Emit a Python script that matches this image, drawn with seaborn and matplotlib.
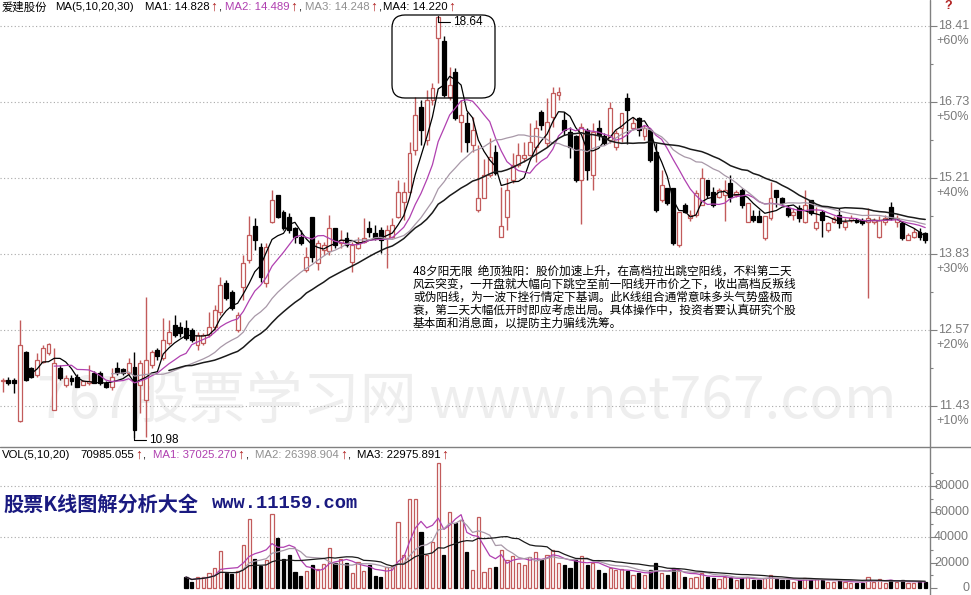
import numpy as np
import pandas as pd
import matplotlib
matplotlib.use("Agg")
import matplotlib.pyplot as plt
import seaborn as sns
from matplotlib.patches import FancyBboxPatch
from matplotlib.lines import Line2D
from matplotlib.ticker import FixedLocator, NullFormatter
import matplotlib.transforms as mtransforms

# ---------------- data ----------------
opens = [
    11.79, 11.81, 11.81, 11.22, 12.23, 11.99, 11.88, 12.08, 12.22, 11.38,
    11.99, 11.74, 11.84, 11.85, 11.74, 11.77, 11.92, 11.92, 11.77, 11.70,
    11.99, 11.97, 11.91, 12.00, 11.74, 11.52, 12.04, 12.26, 12.14, 12.37,
    12.65, 12.62, 12.61, 12.57, 12.34, 12.37, 12.50, 12.62, 12.86, 13.34,
    13.19, 12.57, 13.27, 13.73, 14.32, 13.95, 13.34, 14.39, 14.89, 14.58,
    14.49, 14.29, 14.13, 13.56, 14.49, 13.67, 13.90, 13.88, 14.29, 14.02,
    14.11, 13.70, 13.94, 14.04, 14.29, 14.20, 14.25, 14.11, 14.13, 14.49,
    14.76, 14.95, 15.76, 16.64, 15.96, 16.78, 18.14, 18.07, 16.85, 17.38,
    16.33, 16.31, 15.86, 14.62, 14.84, 15.27, 15.72, 14.13, 14.49, 15.18,
    15.47, 15.60, 15.66, 15.82, 16.53, 15.90, 16.43, 16.89, 16.37, 16.12,
    16.04, 15.18, 16.16, 15.27, 16.20, 16.04, 15.96, 15.82, 16.20, 16.82,
    16.20, 16.41, 16.04, 16.16, 15.72, 14.80, 15.03, 15.03, 13.99, 14.71,
    14.47, 14.52, 14.71, 15.18, 14.95, 14.86, 14.89, 15.12, 14.89, 14.99,
    14.40, 14.50, 14.50, 14.11, 14.47, 14.99, 14.84, 14.65, 14.52, 14.65,
    14.40, 14.80, 14.29, 14.58, 14.25, 14.40, 14.52, 14.31, 14.43, 14.43,
    14.43, 14.40, 14.40, 14.13, 14.40, 14.67, 14.40, 14.38, 14.08, 14.13,
    14.22, 14.20]
closes = [
    11.81, 11.77, 11.76, 12.34, 11.81, 11.85, 12.11, 12.29, 12.36, 12.07,
    11.84, 11.84, 11.79, 11.71, 11.79, 11.80, 11.77, 11.77, 11.71, 11.85,
    11.91, 11.91, 12.07, 11.09, 12.07, 12.11, 12.23, 12.17, 12.42, 12.54,
    12.50, 12.53, 12.45, 12.42, 12.50, 12.50, 12.62, 12.89, 13.30, 13.09,
    12.92, 12.81, 13.67, 14.16, 14.08, 13.44, 13.95, 14.80, 14.49, 14.29,
    14.25, 14.13, 14.02, 13.78, 13.78, 14.02, 13.99, 14.29, 13.99, 14.08,
    13.99, 13.99, 14.04, 14.11, 14.22, 14.11, 14.08, 14.25, 14.34, 14.95,
    14.95, 15.70, 16.47, 16.16, 16.78, 17.03, 18.62, 16.89, 17.10, 16.40,
    16.47, 15.92, 16.16, 14.84, 15.27, 15.62, 15.31, 14.32, 14.99, 15.47,
    15.66, 15.66, 15.92, 16.20, 16.26, 16.33, 16.93, 16.95, 16.16, 15.82,
    15.18, 16.22, 15.37, 16.12, 16.06, 15.90, 16.61, 16.10, 16.50, 16.57,
    16.30, 16.16, 16.20, 15.56, 14.62, 15.08, 14.74, 14.02, 14.58, 14.58,
    14.52, 14.93, 15.22, 14.89, 14.71, 14.99, 14.99, 14.86, 14.95, 14.71,
    14.74, 14.43, 14.40, 14.50, 14.84, 14.86, 14.74, 14.52, 14.58, 14.47,
    14.71, 14.56, 14.40, 14.43, 14.38, 14.47, 14.38, 14.40, 14.47, 14.40,
    14.38, 14.47, 14.43, 14.43, 14.47, 14.47, 14.47, 14.11, 14.16, 14.22,
    14.13, 14.08]
highs = [
    11.84, 11.85, 11.84, 12.73, 12.25, 12.01, 12.22, 12.34, 12.37, 12.29,
    12.04, 11.88, 11.88, 11.90, 11.81, 12.04, 11.94, 11.94, 11.79, 11.99,
    12.08, 11.99, 12.14, 12.23, 12.11, 13.11, 12.26, 12.29, 12.76, 12.73,
    12.81, 12.70, 12.73, 12.61, 12.54, 12.53, 12.86, 12.97, 13.43, 13.39,
    13.22, 12.86, 13.81, 14.50, 14.47, 14.02, 14.02, 14.99, 14.89, 14.62,
    14.56, 14.31, 14.25, 13.95, 14.49, 14.08, 14.04, 14.52, 14.29, 14.25,
    14.22, 14.04, 14.13, 14.47, 14.41, 14.34, 14.31, 14.34, 14.47, 15.18,
    15.13, 15.92, 16.85, 16.78, 16.99, 17.14, 18.64, 18.18, 17.49, 17.47,
    16.78, 16.53, 16.43, 15.86, 15.58, 16.00, 15.86, 15.04, 15.22, 15.70,
    15.90, 15.92, 16.30, 16.37, 16.57, 16.82, 17.05, 17.05, 16.53, 16.22,
    16.06, 16.30, 16.20, 16.30, 16.37, 16.10, 16.74, 16.16, 16.50, 16.93,
    16.43, 16.43, 16.26, 16.20, 15.90, 15.37, 15.03, 15.03, 14.58, 14.74,
    14.62, 14.99, 15.40, 15.18, 15.04, 15.03, 15.18, 15.27, 14.99, 15.03,
    14.74, 14.62, 14.62, 14.50, 15.13, 14.99, 14.86, 14.71, 14.65, 14.71,
    14.99, 14.80, 14.67, 14.62, 14.40, 14.50, 14.65, 14.47, 14.52, 14.47,
    14.47, 14.65, 14.47, 14.50, 14.52, 14.76, 14.52, 14.40, 14.20, 14.29,
    14.29, 14.22]
lows = [
    11.63, 11.74, 11.62, 11.21, 11.80, 11.84, 11.85, 12.07, 12.19, 11.38,
    11.81, 11.70, 11.74, 11.70, 11.73, 11.74, 11.76, 11.74, 11.69, 11.66,
    11.88, 11.88, 11.88, 10.98, 11.33, 10.99, 11.99, 12.11, 12.11, 12.34,
    12.47, 12.47, 12.42, 12.39, 12.26, 12.34, 12.47, 12.57, 12.81, 13.06,
    12.89, 12.54, 13.06, 13.67, 13.90, 13.35, 13.27, 14.38, 14.47, 14.25,
    14.20, 14.02, 13.99, 13.53, 13.70, 13.56, 13.81, 13.81, 13.94, 13.94,
    13.95, 13.53, 13.92, 14.02, 14.13, 14.08, 13.85, 13.59, 14.11, 14.47,
    14.43, 14.93, 15.66, 15.86, 15.86, 16.68, 17.14, 16.85, 16.78, 16.37,
    15.72, 15.72, 15.72, 14.58, 14.84, 15.24, 15.27, 14.13, 14.25, 15.12,
    15.43, 15.53, 15.64, 15.53, 16.16, 15.82, 16.22, 16.78, 16.06, 15.60,
    15.14, 14.36, 15.18, 14.99, 15.96, 15.86, 15.90, 15.76, 15.92, 15.88,
    16.16, 16.04, 15.96, 15.53, 14.58, 14.76, 14.71, 13.99, 13.95, 14.56,
    14.41, 14.49, 14.71, 14.84, 14.67, 14.84, 14.41, 14.76, 14.86, 14.65,
    14.40, 14.40, 14.40, 14.08, 14.43, 14.67, 14.71, 14.49, 14.43, 14.40,
    14.38, 14.52, 14.25, 14.13, 14.22, 14.38, 14.29, 14.25, 14.40, 14.38,
    14.34, 13.09, 14.36, 14.11, 14.34, 14.43, 14.31, 14.08, 14.08, 14.11,
    14.08, 14.02]

vol_first_day = 32          # volume bars visible from this day on
volumes = [
    8600, 4700, 8400, 8600, 11500, 15400, 29000, 11500, 10700, 13300,
    33700, 54000, 22700, 17500, 22000, 58000, 39500, 22700, 25900, 12800,
    9400, 13300, 18000, 14600, 18800, 31000, 19900, 22500, 19900, 12000,
    20600, 13300, 18000, 9400, 8900, 16700, 17200, 51500, 25900, 70000,
    70000, 44000, 25900, 36000, 98000, 25900, 60000, 50700, 53000, 28500,
    14000, 56000, 12800, 15400, 16700, 30000, 22000, 25000, 20000, 18000,
    24000, 28000, 22000, 26000, 30000, 20000, 18000, 16000, 22000, 25000,
    18000, 20000, 14000, 12000, 16000, 14000, 15000, 13000, 10000, 12000,
    10000, 14000, 20000, 12000, 10000, 16000, 14000, 9000, 8000, 9000,
    12000, 9000, 8000, 7000, 9000, 8000, 6000, 8000, 9000, 6000,
    6000, 8000, 10000, 7000, 6000, 6000, 5000, 6000, 8000, 6000,
    7000, 6000, 5000, 5000, 6000, 5000, 4000, 4000, 4000, 9000,
    5000, 7000, 4000, 6000, 5000, 6000, 4000, 4000, 5000, 5000]

price_ticks = [11.43, 12.57, 13.83, 15.21, 16.73, 18.41]
pct_labels = ["+10%", "+20%", "+30%", "+40%", "+50%", "+60%"]
vol_ticks = [0, 20000, 40000, 60000, 80000]
vol_grid = [40000, 80000]
ma_windows = [5, 10, 20, 30]
vma_windows = [5, 10, 20]

note_lines = [
    "48夕阳无限  绝顶独阳：股价加速上升，在高档拉出跳空阳线，不料第二天",
    "风云突变，一开盘就大幅向下跳空至前一阳线开市价之下，收出高档反叛线",
    "或伪阳线，为一波下挫行情定下基调。此K线组合通常意味多头气势盛极而",
    "衰，第二天大幅低开时即应考虑出局。具体操作中，投资者要认真研究个股",
    "基本面和消息面，以提防主力骗线洗筹。",
]

assert len(opens) == len(closes) == len(highs) == len(lows) == 162
assert len(volumes) == 162 - vol_first_day

# ---------------- style ----------------
sns.set_theme(style="white")
plt.rcParams["font.family"] = ["Liberation Sans", "Noto Sans CJK SC", "DejaVu Sans"]
plt.rcParams["axes.unicode_minus"] = False

RED = "#c25b5b"
ARROW = "#b02020"
PURPLE = "#b040b0"
MA3GRAY = "#a898a8"
AXGRAY = "#808080"
LBLGRAY = "#7a7a7a"
GRIDC = "#a8a8a8"

W, H = 971, 595
fig = plt.figure(figsize=(W / 100, H / 100), dpi=100)
fig.patch.set_facecolor("white")
renderer = fig.canvas.get_renderer()

def fx(px):
    return px / W

def fy(py):
    return 1 - py / H

X_RIGHT = 930
STEP, X0 = 5.73, 2.7
ax = fig.add_axes([0, fy(447), fx(X_RIGHT), 447 / H])
axv = fig.add_axes([0, fy(592), fx(X_RIGHT), (592 - 460) / H], sharex=ax)
for a in (ax, axv):
    a.patch.set_alpha(0)
    for s in a.spines.values():
        s.set_visible(False)

df = pd.DataFrame({"day": np.arange(len(opens)), "open": opens, "high": highs,
                   "low": lows, "close": closes})
df["up"] = df["close"] >= df["open"]

# watermark
fig.text(fx(467), fy(402), "767股票学习网 www.net767.com", fontsize=41,
         color="#eeeeee", ha="center", va="center", zorder=-5,
         family=["Noto Sans CJK SC", "DejaVu Sans"])

# ---------------- price panel ----------------
ax.set_yscale("log")
ax.set_ylim(10.858, 19.02)
ax.set_xlim(-X0 / STEP, (X_RIGHT - X0) / STEP)

for p in price_ticks:
    ax.axhline(p, color=GRIDC, lw=0.8, ls=(0, (1, 2.2)), zorder=1)

wick_lo = np.minimum(df["low"], np.minimum(df["open"], df["close"]))
wick_hi = np.maximum(df["high"], np.maximum(df["open"], df["close"]))
ax.vlines(df["day"], wick_lo, wick_hi,
          colors=np.where(df["up"], RED, "black"), lw=1, zorder=2)
body_lo = np.minimum(df["open"], df["close"])
body_h = np.abs(df["close"] - df["open"])
u = df["up"].values
ax.bar(df["day"][u], body_h[u], bottom=body_lo[u], width=0.68,
       facecolor="white", edgecolor=RED, linewidth=0.9, zorder=3)
ax.bar(df["day"][~u], body_h[~u], bottom=body_lo[~u], width=0.68,
       facecolor="black", edgecolor="black", linewidth=0.9, zorder=3)

ma_colors = ["black", PURPLE, MA3GRAY, "#1a1a1a"]
ma_lw = [0.9, 0.9, 0.9, 1.1]
for w, c, lw in zip(ma_windows, ma_colors, ma_lw):
    ma = df["close"].rolling(w).mean()
    sns.lineplot(x=df["day"], y=ma, ax=ax, color=c, lw=lw, zorder=4)

ax.set_xlabel("")
ax.set_ylabel("")
ax.yaxis.tick_right()
ax.set_yticks(price_ticks)
mids = [np.sqrt(a * b) for a, b in zip(price_ticks[:-1], price_ticks[1:])]
ax.yaxis.set_minor_locator(FixedLocator(mids))
ax.yaxis.set_minor_formatter(NullFormatter())
ax.tick_params(axis="y", which="major", length=5, width=0.8, color=AXGRAY,
               direction="out", labelright=False, labelleft=False)
ax.tick_params(axis="y", which="minor", length=2.5, width=0.8, color=AXGRAY,
               direction="out", labelright=False, labelleft=False)
ax.tick_params(axis="x", bottom=False, labelbottom=False)

tr = mtransforms.blended_transform_factory(fig.transFigure, ax.transData)
tr_pct = mtransforms.offset_copy(tr, fig=fig, y=-15, units="dots")
for p, lab in zip(price_ticks, pct_labels):
    ax.text(fx(969), p, f"{p:.2f}", transform=tr, ha="right", va="center",
            fontsize=9, color=LBLGRAY, clip_on=False)
    ax.text(fx(969), p, lab, transform=tr_pct, ha="right", va="center",
            fontsize=9, color=LBLGRAY, clip_on=False)

# extreme labels
imax = int(df["high"].idxmax())
imin = int(df["low"].idxmin())
ax.annotate(f"{df['high'][imax]:.2f}", xy=(imax, df["high"][imax]),
            xytext=(15, -6), textcoords="offset pixels", fontsize=8.5,
            ha="left", va="center", color="black", zorder=6,
            arrowprops=dict(arrowstyle="-", color="black", lw=0.8,
                            shrinkA=0, shrinkB=0,
                            connectionstyle="angle,angleA=0,angleB=90,rad=0"))
ax.annotate(f"{df['low'][imin]:.2f}", xy=(imin, df["low"][imin]),
            xytext=(15, -2), textcoords="offset pixels", fontsize=8.5,
            ha="left", va="center", color="black", zorder=6,
            arrowprops=dict(arrowstyle="-", color="black", lw=0.8,
                            shrinkA=0, shrinkB=0,
                            connectionstyle="angle,angleA=0,angleB=90,rad=0"))

# rounded box around the peak (pixel layout)
box = FancyBboxPatch((392, H - 98), 103, 83,
                     boxstyle="round,pad=0,rounding_size=13",
                     transform=mtransforms.IdentityTransform(),
                     fill=False, ec="black", lw=0.9, zorder=7)
fig.add_artist(box)

# ---------------- volume panel ----------------
vdf = pd.DataFrame({"day": np.arange(vol_first_day, len(opens)), "vol": volumes})
vdf["up"] = df["up"].values[vol_first_day:]
axv.set_ylim(-3137, 100392)
for g in vol_grid:
    axv.axhline(g, color=GRIDC, lw=0.8, ls=(0, (1, 2.2)), zorder=1)
vu = vdf["up"].values
axv.bar(vdf["day"][vu], vdf["vol"][vu], width=0.55, facecolor="white",
        edgecolor=RED, linewidth=0.9, zorder=3)
axv.bar(vdf["day"][~vu], vdf["vol"][~vu], width=0.55, facecolor="black",
        edgecolor="black", linewidth=0.9, zorder=3)
for w, c in zip(vma_windows, [PURPLE, MA3GRAY, "#1a1a1a"]):
    vma = vdf["vol"].rolling(w, min_periods=1).mean()
    sns.lineplot(x=vdf["day"], y=vma, ax=axv, color=c, lw=0.9, zorder=4)
axv.set_xlabel("")
axv.set_ylabel("")
axv.yaxis.tick_right()
axv.set_yticks(vol_ticks)
axv.yaxis.set_minor_locator(FixedLocator(np.arange(10000, 100000, 20000)))
axv.tick_params(axis="y", which="major", length=5, width=0.8, color=AXGRAY,
                direction="out", labelright=False, labelleft=False)
axv.tick_params(axis="y", which="minor", length=2.5, width=0.8, color=AXGRAY,
                direction="out", labelright=False, labelleft=False)
axv.tick_params(axis="x", bottom=False, labelbottom=False)
trv = mtransforms.blended_transform_factory(fig.transFigure, axv.transData)
for v in vol_ticks:
    axv.text(fx(969), v, f"{v}", transform=trv, ha="right", va="center",
             fontsize=9, color=LBLGRAY, clip_on=False)

# ---------------- frame lines ----------------
fig.add_artist(Line2D([fx(X_RIGHT), fx(X_RIGHT)], [0, 1], color=AXGRAY, lw=1))
fig.add_artist(Line2D([0, 1], [fy(447), fy(447)], color=AXGRAY, lw=1))

# ---------------- header texts ----------------
def ftext(px, py, s, color="black", size=8.2, **kw):
    return fig.text(fx(px), fy(py), s, color=color, fontsize=size, ha="left",
                    va="center", **kw)

def item(px, py, s, color="black", arrow=True, comma=True):
    """label, then a red arrow and a comma placed right after it"""
    t = ftext(px, py, s, color)
    x = t.get_window_extent(renderer).x1 + 1
    if arrow:
        a = ftext(x, py, "↑", ARROW, size=10)
        x = a.get_window_extent(renderer).x1
    if comma:
        ftext(x, py, ",")

ftext(2, 7, "爱建股份")
ftext(55, 7, "MA(5,10,20,30)")
item(145, 7, "MA1: 14.828")
item(225, 7, "MA2: 14.489", PURPLE)
item(305, 7, "MA3: 14.248", "#909090")
item(383, 7, "MA4: 14.220", comma=False)
ftext(944, 6, "?", ARROW, size=9, weight="bold")

ftext(2, 455, "VOL(5,10,20)")
item(80, 455, "70985.055")
item(153, 455, "MA1: 37025.270", PURPLE)
item(255, 455, "MA2: 26398.904", "#909090")
item(357, 455, "MA3: 22975.891", comma=False)

ftext(3, 504, "股票K线图解分析大全", "#1a1a80", size=14.5, weight="bold",
      family=["Noto Sans CJK SC", "DejaVu Sans"])
ftext(212, 504, "www.11159.com", "#1a1a80", size=13.5, weight="bold",
      family=["Liberation Mono", "DejaVu Sans Mono"])

for k, line in enumerate(note_lines):
    ftext(413, 271 + 13 * k, line, "black", size=8.4,
          family=["Noto Sans CJK SC", "DejaVu Sans"])

fig.savefig("out.png", dpi=100, facecolor="white")
